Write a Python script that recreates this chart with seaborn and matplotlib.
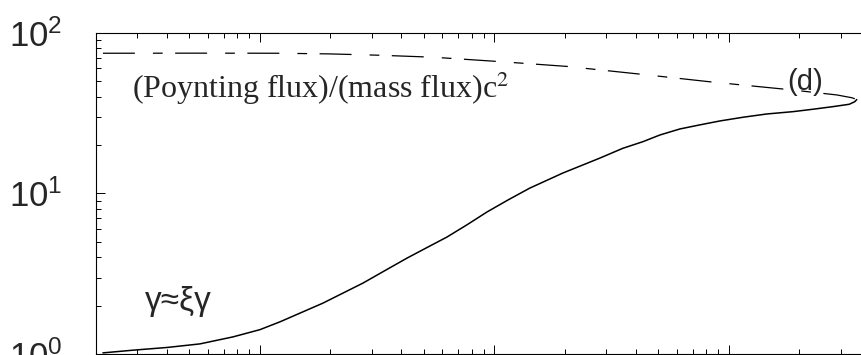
import matplotlib
matplotlib.use("Agg")
import matplotlib.pyplot as plt
from matplotlib.ticker import NullFormatter
import seaborn as sns

# Lorentz factor along the flow
gamma_x = [0.2141, 0.2872, 0.4013, 0.5548, 0.767, 1.0, 1.217, 1.481, 1.857, 2.259,
           2.75, 3.413, 4.24, 5.154, 6.27, 7.672, 9.29, 11.42, 14.17, 19.6,
           28.2, 35.3, 43.0, 50.8, 61.8, 75.2, 91.5, 114.8, 145.2, 187.6,
           228.1, 277.6, 326.5, 344.5, 351.4]
gamma_y = [1.019, 1.059, 1.101, 1.159, 1.281, 1.421, 1.589, 1.800, 2.078, 2.398,
           2.768, 3.311, 3.96, 4.604, 5.35, 6.404, 7.66, 9.10, 10.8, 13.4,
           16.6, 19.09, 20.99, 23.1, 25.18, 26.7, 28.24, 29.78, 31.22, 32.27,
           33.40, 34.67, 35.88, 37.24, 38.4]

# Poynting-to-matter energy flux ratio
sigma_x = [0.2141, 0.5548, 1.217, 1.988, 3.249, 5.47, 10.55, 20.38, 43.0, 83.0,
           182.0, 288.8, 334.6, 351.4]
sigma_y = [74.5, 74.6, 74.5, 73.8, 72.4, 70.4, 66.1, 61.7, 55.0, 49.5,
           44.2, 41.0, 39.4, 38.4]

sns.set_style("ticks")
plt.rcParams["font.family"] = ["Liberation Sans", "DejaVu Sans"]
plt.rcParams["mathtext.fontset"] = "custom"
plt.rcParams["mathtext.rm"] = "Liberation Sans"
plt.rcParams["mathtext.it"] = "Liberation Sans:italic"
plt.rcParams["mathtext.bf"] = "Liberation Sans:bold"
plt.rcParams["lines.scale_dashes"] = False

W, H = 861, 355
fig = plt.figure(figsize=(W / 100, H / 100), dpi=100)
left_px, right_px, top_px, bottom_px = 96, 870, 32.7, 354.2
ax = fig.add_axes([left_px / W, (H - bottom_px) / H,
                   (right_px - left_px) / W, (bottom_px - top_px) / H])
ax.set_xscale("log")
ax.set_yscale("log")

sns.lineplot(x=gamma_x, y=gamma_y, sort=False, estimator=None, color="black",
             linewidth=1.1, ax=ax)
sns.lineplot(x=sigma_x, y=sigma_y, sort=False, estimator=None, color="black",
             linewidth=0.9, linestyle=(0, (23, 13, 7, 9)), ax=ax)

ax.set_xlim(0.2, 400)
ax.set_ylim(1, 100)

for s in ax.spines.values():
    s.set_visible(True)
    s.set_color("black")
    s.set_linewidth(0.8)

ax.tick_params(which="both", direction="in", top=True, right=True,
               color="black", width=0.7)
ax.tick_params(which="major", length=6.5)
ax.tick_params(which="minor", length=3.5)
ax.tick_params(axis="y", which="major", labelsize=25, pad=24)
ax.tick_params(axis="x", labelbottom=False)
ax.xaxis.set_minor_formatter(NullFormatter())
ax.yaxis.set_minor_formatter(NullFormatter())
ax.set_xlabel("")
ax.set_ylabel("")

ax.text(0.0465, 0.797, "(Poynting flux)/(mass flux)c$^2$", transform=ax.transAxes,
        fontsize=23, family="Liberation Serif", math_fontfamily="stix",
        va="baseline", ha="left")
ax.text(0.893, 0.822, "(d)", transform=ax.transAxes, fontsize=21,
        va="baseline", ha="left")
ax.text(0.063, 0.1375, "γ≈ξγ", transform=ax.transAxes, fontsize=24,
        va="baseline", ha="left")

fig.savefig("out.png", dpi=100)
